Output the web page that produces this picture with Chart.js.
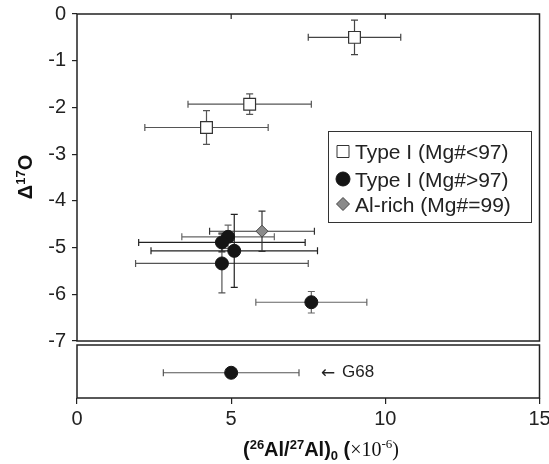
<!DOCTYPE html>
<html>
<head>
<meta charset="utf-8">
<script src="https://cdn.jsdelivr.net/npm/chart.js@4.4.0/dist/chart.umd.min.js"></script>
<style>
  html, body { margin: 0; padding: 0; background: #fff; }
</style>
</head>
<body>
<canvas id="chart" width="549" height="464"></canvas>
<script>
// Type I chondrules, Mg# < 97 (open squares)
const lowMgX = [9.0, 5.6, 4.2];
const lowMgY = [-0.5, -1.93, -2.43];
const lowMgXErr = [1.5, 2.0, 2.0];
const lowMgYErr = [0.37, 0.22, 0.36];

// Type I chondrules, Mg# > 97 (filled circles)
const highMgX = [4.9, 4.7, 4.7, 5.1, 7.6];
const highMgY = [-4.77, -4.89, -5.34, -5.07, -6.17];
const highMgXErr = [1.5, 2.7, 2.8, 2.7, 1.8];
const highMgYErr = [0.25, 0.2, 0.63, 0.78, 0.23];

// Al-rich chondrule (grey diamond)
const alRichX = [6.0];
const alRichY = [-4.65];
const alRichXErr = [1.7];
const alRichYErr = [0.43];

// G68 (no oxygen data, shown in the lower strip)
const g68X = [5.0];
const g68XErr = [2.2];
const g68StripY = -7.68;

const xTicks = [0, 5, 10, 15];
const yTicks = [0, -1, -2, -3, -4, -5, -6, -7];
const legendLabels = ['Type I (Mg#<97)', 'Type I (Mg#>97)', 'Al-rich (Mg#=99)'];

const SANS = '"Liberation Sans", Arial, Helvetica, sans-serif';
const SERIF = '"Liberation Serif", "Times New Roman", serif';

function pts(xs, ys, xe, ye) {
    return xs.map((v, i) => ({ x: v, y: ys[i], xe: xe[i], ye: ye ? ye[i] : 0 }));
}

// error bars drawn under the markers
const errorBars = {
    id: 'errorBars',
    beforeDatasetsDraw(chart) {
        const ctx = chart.ctx;
        const xs = chart.scales.x, ys = chart.scales.y;
        const cap = 3.5;
        ctx.save();
        ctx.lineWidth = 1.2;
        chart.data.datasets.forEach(ds => {
            ds.data.forEach((p, i) => {
                ctx.strokeStyle = ds.barColors[i % ds.barColors.length];
                const px = xs.getPixelForValue(p.x);
                const py = ys.getPixelForValue(p.y);
                if (p.xe) {
                    const x1 = xs.getPixelForValue(p.x - p.xe);
                    const x2 = xs.getPixelForValue(p.x + p.xe);
                    ctx.beginPath();
                    ctx.moveTo(x1, py); ctx.lineTo(x2, py);
                    ctx.moveTo(x1, py - cap); ctx.lineTo(x1, py + cap);
                    ctx.moveTo(x2, py - cap); ctx.lineTo(x2, py + cap);
                    ctx.stroke();
                }
                if (p.ye) {
                    const y1 = ys.getPixelForValue(p.y + p.ye);
                    const y2 = ys.getPixelForValue(p.y - p.ye);
                    ctx.beginPath();
                    ctx.moveTo(px, y1); ctx.lineTo(px, y2);
                    ctx.moveTo(px - cap, y1); ctx.lineTo(px + cap, y1);
                    ctx.moveTo(px - cap, y2); ctx.lineTo(px + cap, y2);
                    ctx.stroke();
                }
            });
        });
        ctx.restore();
    }
};

// draw a run of text pieces with superscripts / subscripts
function drawRich(ctx, parts, x, y) {
    let cx = x;
    parts.forEach(p => {
        ctx.font = p.font;
        ctx.fillText(p.t, cx, y + (p.dy || 0));
        cx += ctx.measureText(p.t).width;
    });
}
function richWidth(ctx, parts) {
    let w = 0;
    parts.forEach(p => { ctx.font = p.font; w += ctx.measureText(p.t).width; });
    return w;
}

const frames = {
    id: 'frames',
    afterDraw(chart) {
        const ctx = chart.ctx;
        const xs = chart.scales.x, ys = chart.scales.y;
        const a = chart.chartArea;
        const yMainBottom = ys.getPixelForValue(-7);
        ctx.save();
        ctx.strokeStyle = '#222';
        ctx.lineWidth = 1.5;
        // main panel
        ctx.strokeRect(a.left, a.top, a.right - a.left, yMainBottom - a.top);
        // lower strip
        ctx.strokeRect(a.left, yMainBottom + 4, a.right - a.left, a.bottom - yMainBottom - 4);
        // inner ticks on the top edge
        ctx.lineWidth = 1.2;
        ctx.beginPath();
        [5, 10].forEach(v => {
            const px = xs.getPixelForValue(v);
            ctx.moveTo(px, a.top); ctx.lineTo(px, a.top + 5);
        });
        ctx.stroke();

        // G68 label
        ctx.fillStyle = '#222';
        ctx.textBaseline = 'middle';
        const gx = xs.getPixelForValue(g68X[0] + g68XErr[0]) + 22;
        const gy = ys.getPixelForValue(g68StripY);
        ctx.font = '17px "DejaVu Sans", sans-serif';
        ctx.fillText('\u2190', gx, gy + 1);
        ctx.font = '17px ' + SANS;
        ctx.fillText('G68', gx + 21, gy);

        // legend
        ctx.lineWidth = 1;
        ctx.strokeStyle = '#333';
        ctx.strokeRect(328.5, 131.5, 203, 91);
        ctx.font = '21px ' + SANS;
        ctx.textBaseline = 'alphabetic';
        const rows = [151.5, 179, 204];
        chart.data.datasets.slice(0, 3).forEach((ds, i) => {
            const mx = 343, my = rows[i];
            ctx.beginPath();
            if (ds.pointStyle === 'rect') {
                ctx.rect(337, my - 6, 12, 12);
            } else if (ds.pointStyle === 'circle') {
                ctx.arc(mx, my, 7, 0, Math.PI * 2);
            } else {
                ctx.moveTo(mx, my - 6.5); ctx.lineTo(mx + 6.5, my);
                ctx.lineTo(mx, my + 6.5); ctx.lineTo(mx - 6.5, my);
                ctx.closePath();
            }
            ctx.fillStyle = ds.backgroundColor;
            ctx.fill();
            ctx.strokeStyle = ds.borderColor;
            ctx.lineWidth = 1;
            ctx.stroke();
            ctx.fillStyle = '#222';
            ctx.fillText(ds.label, 355, my + 7.5);
        });

        // axis titles
        const bold = 'bold 20px ' + SANS, boldSm = 'bold 13px ' + SANS;
        const xTitle = [
            { t: '(', font: bold },
            { t: '26', font: boldSm, dy: -7 },
            { t: 'Al/', font: bold },
            { t: '27', font: boldSm, dy: -7 },
            { t: 'Al)', font: bold },
            { t: '0', font: boldSm, dy: 4 },
            { t: ' (', font: bold },
            { t: '\u00d710', font: '20px ' + SERIF },
            { t: '-6', font: '13px ' + SERIF, dy: -8 },
            { t: ')', font: '20px ' + SERIF }
        ];
        ctx.fillStyle = '#111';
        ctx.textBaseline = 'alphabetic';
        const w = richWidth(ctx, xTitle);
        drawRich(ctx, xTitle, 321 - w / 2, 456);

        const yTitle = [
            { t: '\u0394', font: bold },
            { t: '17', font: boldSm, dy: -7 },
            { t: 'O', font: bold }
        ];
        ctx.save();
        ctx.translate(32, 177);
        ctx.rotate(-Math.PI / 2);
        const wy = richWidth(ctx, yTitle);
        drawRich(ctx, yTitle, -wy / 2, 0);
        ctx.restore();

        ctx.restore();
    }
};

const ctx = document.getElementById('chart').getContext('2d');
new Chart(ctx, {
    type: 'scatter',
    data: {
        datasets: [
            {
                label: legendLabels[0],
                data: pts(lowMgX, lowMgY, lowMgXErr, lowMgYErr),
                pointStyle: 'rect',
                pointRadius: 8.3,
                backgroundColor: '#ffffff',
                borderColor: '#333',
                borderWidth: 1.2,
                barColors: ['#444', '#555', '#555']
            },
            {
                label: legendLabels[1],
                data: pts(highMgX, highMgY, highMgXErr, highMgYErr),
                pointStyle: 'circle',
                pointRadius: 6.5,
                backgroundColor: '#151515',
                borderColor: '#151515',
                borderWidth: 1,
                barColors: ['#666', '#222', '#555', '#222', '#666']
            },
            {
                label: legendLabels[2],
                data: pts(alRichX, alRichY, alRichXErr, alRichYErr),
                pointStyle: 'rectRot',
                pointRadius: 6,
                backgroundColor: '#8a8a8a',
                borderColor: '#444',
                borderWidth: 1,
                barColors: ['#333']
            },
            {
                label: 'G68',
                data: pts(g68X, [g68StripY], g68XErr, null),
                pointStyle: 'circle',
                pointRadius: 6.5,
                backgroundColor: '#151515',
                borderColor: '#151515',
                borderWidth: 1,
                barColors: ['#555']
            }
        ]
    },
    options: {
        responsive: false,
        devicePixelRatio: 1,
        animation: false,
        layout: { padding: { top: 14, right: 9, left: 0, bottom: 0 } },
        plugins: {
            legend: { display: false },
            tooltip: { enabled: false }
        },
        scales: {
            x: {
                type: 'linear',
                min: 0,
                max: 15,
                afterBuildTicks: s => { s.ticks = xTicks.map(v => ({ value: v })); },
                afterFit: s => { s.height = 66; s.paddingLeft = 0; s.paddingRight = 0; },
                border: { display: false },
                grid: { drawOnChartArea: false, drawTicks: true, tickLength: 6, color: '#222', lineWidth: 1.2 },
                ticks: { color: '#222', padding: 3, font: { family: SANS, size: 20 } }
            },
            y: {
                type: 'linear',
                min: -8.22,
                max: 0,
                afterBuildTicks: s => { s.ticks = yTicks.map(v => ({ value: v })); },
                afterFit: s => { s.width = 77; s.paddingTop = 0; s.paddingBottom = 0; },
                border: { display: false },
                grid: { drawOnChartArea: false, drawTicks: true, tickLength: 5, color: '#222', lineWidth: 1.2 },
                ticks: { color: '#222', padding: 6, font: { family: SANS, size: 20 } }
            }
        }
    },
    plugins: [errorBars, frames]
});
</script>
</body>
</html>
